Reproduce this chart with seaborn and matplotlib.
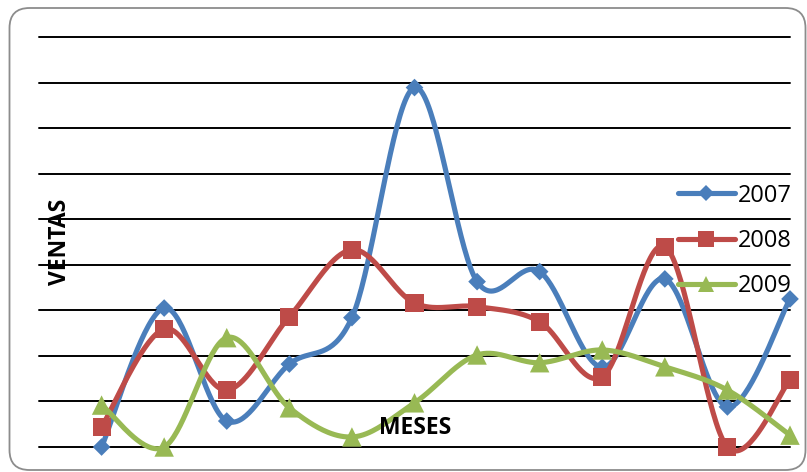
import numpy as np
import pandas as pd
import matplotlib
matplotlib.use("Agg")
import matplotlib.pyplot as plt
from matplotlib.lines import Line2D
from matplotlib.patches import FancyBboxPatch
from matplotlib.transforms import IdentityTransform
import seaborn as sns

# Monthly sales, one value per month
meses = list(range(1, 13))
ventas_2007 = [0.00, 3.05, 0.57, 1.82, 2.84, 7.89, 3.63, 3.85, 1.75, 3.69, 0.88, 3.25]
ventas_2008 = [0.44, 2.59, 1.25, 2.86, 4.33, 3.16, 3.08, 2.75, 1.54, 4.40, 0.00, 1.47]
ventas_2009 = [0.92, 0.00, 2.40, 0.86, 0.22, 0.97, 2.02, 1.85, 2.13, 1.76, 1.25, 0.26]
series_names = ["2007", "2008", "2009"]

colors = {"2007": "#4A7EBB", "2008": "#BE4B48", "2009": "#98B954"}
markers = {"2007": ("D", 9.0), "2008": ("s", 13.0), "2009": ("^", 14.0)}


def smooth_curve(xs, ys, steps=40):
    """Smoothed line through every point (cubic Bezier, neighbour-based tangents)."""
    p = np.column_stack([xs, ys]).astype(float)
    n = len(p)
    ext = np.vstack([p[0], p, p[-1]])
    out = []
    t = np.linspace(0, 1, steps)[:, None]
    for i in range(n - 1):
        p0, p1, p2, p3 = ext[i], ext[i + 1], ext[i + 2], ext[i + 3]
        c1 = p1 + (p2 - p0) / 6.0
        c2 = p2 - (p3 - p1) / 6.0
        seg = ((1 - t) ** 3) * p1 + 3 * ((1 - t) ** 2) * t * c1 + 3 * (1 - t) * t ** 2 * c2 + t ** 3 * p2
        out.append(seg if i == 0 else seg[1:])
    seg = np.vstack(out)
    return seg[:, 0], seg[:, 1]


W, H = 807, 472
fig = plt.figure(figsize=(W / 100, H / 100), dpi=100)
sns.set_style("white")
plt.rcParams["font.family"] = ["Open Sans", "DejaVu Sans"]
plt.rcParams["text.color"] = "black"

ax = fig.add_axes([39 / W, 1 - 447 / H, (790 - 39) / W, (447 - 37) / H])
ax.set_xlim(0, 12)
ax.set_ylim(0, 9)
for spine in ax.spines.values():
    spine.set_visible(False)
ax.set_xticks([])
ax.set_yticks([])
for g in range(10):
    ax.axhline(g, color="#000000", lw=1.4, zorder=1)

data = {"2007": ventas_2007, "2008": ventas_2008, "2009": ventas_2009}
handles = []
for k, name in enumerate(series_names):
    vals = data[name]
    cx, cy = smooth_curve(meses, vals)
    curve = pd.DataFrame({"mes": cx, "ventas": cy})
    sns.lineplot(data=curve, x="mes", y="ventas", sort=False, estimator=None,
                 color=colors[name], lw=3.7, ax=ax, zorder=3 + 2 * k)
    pts = pd.DataFrame({"mes": meses, "ventas": vals})
    m, ms = markers[name]
    sns.scatterplot(data=pts, x="mes", y="ventas", marker=m, s=ms ** 2,
                    color=colors[name], edgecolor="none", linewidth=0,
                    ax=ax, zorder=4 + 2 * k, clip_on=False)
    handles.append(Line2D([0], [0], color=colors[name], lw=3.7, marker=m,
                          markersize=ms * 0.85, markeredgewidth=0))

for line in ax.lines:
    line.set_clip_on(False)

ax.set_xlabel("")
ax.set_ylabel("")

leg = fig.legend(handles, series_names, loc="center left",
                 bbox_to_anchor=(678 / W, 1 - 241 / H), frameon=False,
                 fontsize=17, handlelength=2.4, handletextpad=0.12,
                 labelspacing=0.9, borderpad=0, borderaxespad=0)
for t in leg.get_texts():
    t.set_color("black")

fig.text(60 / W, 1 - 242 / H, "VENTAS", rotation=90, ha="center", va="center",
         fontsize=16.5, fontweight="bold", color="black")
fig.text(415 / W, 1 - 428 / H, "MESES", ha="center", va="center",
         fontsize=16.5, fontweight="bold", color="black")

frame = FancyBboxPatch((9.5, 2), 796, 462, boxstyle="round,pad=0,rounding_size=20",
                       transform=IdentityTransform(), facecolor="none",
                       edgecolor="#8C8C8C", lw=1.3)
fig.patches.append(frame)

fig.savefig("out.png", dpi=100)
